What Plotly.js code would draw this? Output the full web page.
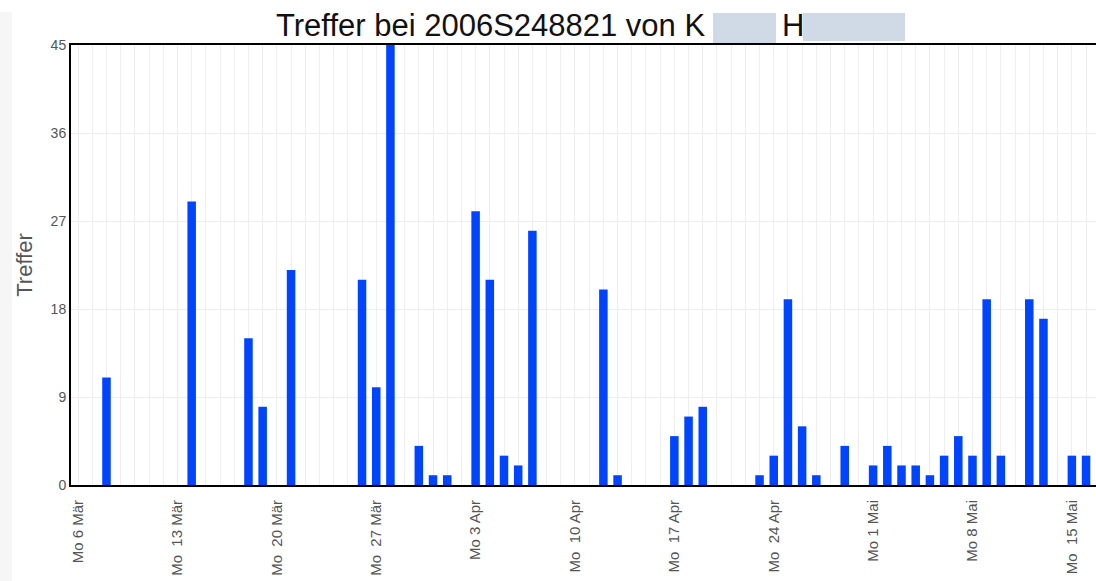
<!DOCTYPE html>
<html>
<head>
<meta charset="utf-8">
<script src="https://cdn.plot.ly/plotly-3.0.1.min.js"></script>
<style>
html,body{margin:0;padding:0;background:#fff;}
#chart{width:1096px;height:581px;}
</style>
</head>
<body>
<div id="chart"></div>
<script>
// Data: days with hits (all other days are 0)
const dates = [
  '2006-03-08','2006-03-14','2006-03-18','2006-03-19','2006-03-21',
  '2006-03-26','2006-03-27','2006-03-28','2006-03-30','2006-03-31',
  '2006-04-01','2006-04-03','2006-04-04','2006-04-05','2006-04-06',
  '2006-04-07','2006-04-12','2006-04-13','2006-04-17','2006-04-18',
  '2006-04-19','2006-04-23','2006-04-24','2006-04-25','2006-04-26',
  '2006-04-27','2006-04-29','2006-05-01','2006-05-02','2006-05-03',
  '2006-05-04','2006-05-05','2006-05-06','2006-05-07','2006-05-08',
  '2006-05-09','2006-05-10','2006-05-12','2006-05-13','2006-05-15',
  '2006-05-16'
];
const treffer = [
  11, 29, 15, 8, 22,
  21, 10, 45, 4, 1,
  1, 28, 21, 3, 2,
  26, 20, 1, 5, 7,
  8, 1, 3, 19, 6,
  1, 4, 2, 4, 2,
  2, 1, 3, 5, 3,
  19, 3, 19, 17, 3,
  3
];
const tickDates = ['2006-03-06','2006-03-13','2006-03-20','2006-03-27','2006-04-03','2006-04-10','2006-04-17','2006-04-24','2006-05-01','2006-05-08','2006-05-15'];
const tickLabels = ['Mo 6 Mär','Mo\u00a0\u00a013 Mär','Mo\u00a0\u00a020 Mär','Mo\u00a0\u00a027 Mär','Mo 3 Apr','Mo\u00a0\u00a010 Apr','Mo\u00a0\u00a017 Apr','Mo\u00a0\u00a024 Apr','Mo 1 Mai','Mo 8 Mai','Mo\u00a0\u00a015 Mai'];
const yTicks = [0, 9, 18, 27, 36, 45];

const DAY = 86400000;
const L = 71, R = 0, T = 45, B = 96, W = 1096, H = 581;
const pw = W - L - R, ph = H - T - B;
const px = v => (v - L) / pw;
const py = v => (H - B - v) / ph;

const trace = {
  type: 'bar',
  x: dates,
  y: treffer,
  width: dates.map(() => 0.6 * DAY),
  marker: {color: '#0044ff', line: {width: 0}},
  hoverinfo: 'x+y'
};

const layout = {
  width: W, height: H,
  margin: {l: L, r: R, t: T, b: B, pad: 0},
  paper_bgcolor: '#fff', plot_bgcolor: '#fff',
  showlegend: false,
  font: {family: '"Liberation Sans", Arial, sans-serif', color: '#555'},
  title: {
    text: 'Treffer bei 2006S248821 von K',
    font: {size: 31, color: '#111', family: '"Liberation Sans", Arial, sans-serif'},
    xref: 'container', x: 276 / W, xanchor: 'left',
    yref: 'container', y: 1 - 25 / H, yanchor: 'middle'
  },
  xaxis: {
    type: 'date',
    range: ['2006-03-05 12:00', '2006-05-16 16:48'],
    tickmode: 'array', tickvals: tickDates, ticktext: tickLabels,
    tickangle: -90,
    tickfont: {size: 15, color: '#555'},
    ticks: '',
    ticklabelstandoff: 7,
    showgrid: true, gridcolor: '#eeeeee', gridwidth: 1,
    minor: {dtick: DAY, tick0: '2006-03-06', showgrid: true, gridcolor: '#eeeeee', gridwidth: 1, ticks: ''},
    showline: true, linecolor: '#000', linewidth: 2, mirror: true,
    zeroline: false, fixedrange: true
  },
  yaxis: {
    range: [0, 45],
    tickmode: 'array', tickvals: yTicks,
    tickfont: {size: 14, color: '#555'},
    ticks: '',
    showgrid: true, gridcolor: '#eeeeee', gridwidth: 1,
    showline: true, linecolor: '#000', linewidth: 2,
    zeroline: false,
    title: {text: 'Treffer', font: {size: 22, color: '#555'}, standoff: 12},
    fixedrange: true
  },
  annotations: [{
    text: 'H', xref: 'paper', yref: 'paper',
    x: px(780), xanchor: 'left', y: py(25), yanchor: 'middle',
    showarrow: false,
    font: {size: 31, color: '#111', family: '"Liberation Sans", Arial, sans-serif'}
  }],
  shapes: [
    {type: 'rect', xref: 'paper', yref: 'paper', x0: px(0), x1: px(12), y0: py(581), y1: py(12), fillcolor: '#f6f6f6', line: {width: 0}, layer: 'below'},
    {type: 'rect', xref: 'paper', yref: 'paper', x0: px(713), x1: px(776), y0: py(43), y1: py(13), fillcolor: '#d0dae6', line: {width: 0}},
    {type: 'rect', xref: 'paper', yref: 'paper', x0: px(803), x1: px(905), y0: py(41), y1: py(13), fillcolor: '#d0dae6', line: {width: 0}}
  ]
};

Plotly.newPlot('chart', [trace], layout, {displayModeBar: false, staticPlot: true});
</script>
</body>
</html>
